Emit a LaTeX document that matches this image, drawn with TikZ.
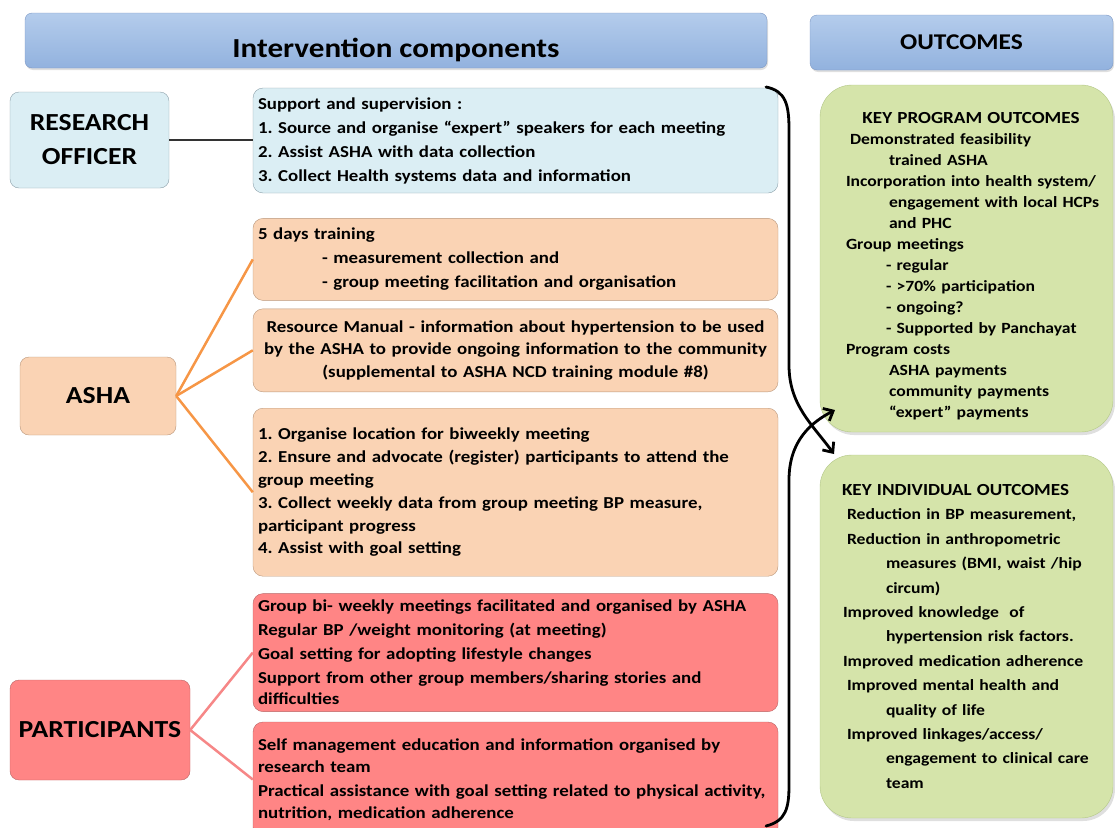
\documentclass[tikz,border=0pt]{standalone}
\usepackage{fontspec}
\setmainfont{Carlito}[FakeStretch=1.13]
\usepackage{xcolor}
\usepackage{tikz}
\usetikzlibrary{shapes,arrows,arrows.meta,positioning,shadows}

\definecolor{hdrtop}{RGB}{180,204,236}
\definecolor{hdrbot}{RGB}{146,178,222}
\definecolor{hdrline}{RGB}{125,152,196}
\definecolor{roblue}{RGB}{219,238,244}
\definecolor{roline}{RGB}{140,160,170}
\definecolor{ashafill}{RGB}{250,211,180}
\definecolor{ashaline}{RGB}{185,150,122}
\definecolor{ashalink}{RGB}{246,150,70}
\definecolor{partfill}{RGB}{255,133,133}
\definecolor{partline}{RGB}{185,100,100}
\definecolor{partlink}{RGB}{246,135,135}
\definecolor{outfill}{RGB}{213,228,170}
\definecolor{grline}{RGB}{178,198,135}

\newcommand{\hdrfont}{\fontsize{27.5}{33}\selectfont\bfseries}
\newcommand{\hdrsmall}{\fontsize{22.5}{27}\selectfont\bfseries}
\newcommand{\rolefont}{\fontsize{24.5}{34}\selectfont\bfseries}
\newcommand{\bodyfont}{\fontsize{16.7}{24}\selectfont\bfseries}
\newcommand{\outfont}{\fontsize{15.6}{21}\selectfont\bfseries}
\newcommand{\indfont}{\fontsize{15.6}{24.4}\selectfont\bfseries}
\newcommand{\keyfont}{\fontsize{16.9}{21}\selectfont}

\frenchspacing
\hyphenpenalty=10000

\begin{document}
\begin{tikzpicture}[
    x=1pt, y=-1pt,
    header/.style={rectangle, draw=hdrline, top color=hdrtop, bottom color=hdrbot, rounded corners=7pt, minimum height=55pt, drop shadow={opacity=0.25, shadow xshift=1pt, shadow yshift=-2pt}},
    role/.style={rectangle, draw, rounded corners=9pt, align=center, font=\rolefont},
    task/.style={rectangle, draw, rounded corners=10pt, minimum width=525pt, text width=515pt, align=left, inner xsep=5pt, inner ysep=2pt, font=\bodyfont},
    outcome/.style={rectangle, draw=grline, fill=outfill, rounded corners=32pt, minimum width=293pt, text width=275pt, align=left, inner xsep=5pt, drop shadow={opacity=0.25, shadow xshift=2pt, shadow yshift=-3pt}},
    link/.style={line width=2.5pt},
    arrow/.style={-{Straight Barb[length=8pt,width=14pt]}, line width=2.8pt, line cap=round}
]
\useasboundingbox (0,0) rectangle (1115,827);

% Header bars
\node[header, minimum width=742pt, font=\hdrfont, text height=38pt, text depth=5pt] (hint) at (396,40.5) {Intervention components};
\node[header, minimum width=303pt, font=\hdrsmall] (hout) at (961.5,42.5) {OUTCOMES};

% Who does it
\node[role, fill=roblue, draw=roline, minimum width=159pt, minimum height=96pt] (ro) at (89.5,140) {RESEARCH\\OFFICER};
\node[role, fill=ashafill, draw=ashaline, minimum width=156pt, minimum height=78pt] (asha) at (98,396) {ASHA};
\node[role, fill=partfill, draw=partline, minimum width=180pt, minimum height=100pt] (part) at (100,730) {PARTICIPANTS};

% Component boxes
\node[task, fill=roblue, draw=roline, minimum height=105pt] (sup) at (515.5,140.5) {
    Support and supervision :\\
    1. Source and organise “expert” speakers for each meeting\\
    2. Assist ASHA with data collection\\
    3. Collect Health systems data and information
};

\node[task, fill=ashafill, draw=ashaline, minimum height=82pt, below=25pt of sup] (a1) {
    5 days training\\
    \hspace*{64pt}- measurement collection and\\
    \hspace*{64pt}- group meeting facilitation and organisation
};

\node[task, fill=ashafill, draw=ashaline, minimum height=83pt, align=center, below=8pt of a1] (a2) {
    Resource Manual - information about hypertension to be used\\[-1.5pt]
    by the ASHA to provide ongoing information to the community\\[-1.5pt]
    (supplemental to ASHA NCD training module \#8)
};

\node[task, fill=ashafill, draw=ashaline, minimum height=168pt, below=16pt of a2] (a3) {
    1. Organise location for biweekly meeting\\[-1pt]
    2. Ensure and advocate (register) participants to attend the\\[-1pt]
    group meeting\\[-1pt]
    3. Collect weekly data from group meeting BP measure,\\[-1pt]
    participant progress\\[-2pt]
    4. Assist with goal setting
};

\node[task, fill=partfill, draw=partline, minimum height=118pt, below=17pt of a3] (p1) {
    Group bi- weekly meetings facilitated and organised by ASHA\\
    Regular BP /weight monitoring (at meeting)\\
    Goal setting for adopting lifestyle changes\\
    Support from other group members/sharing stories and\\[-3pt]
    difficulties
};

\node[task, fill=partfill, draw=partline, minimum height=115pt, below=10pt of p1] (p2) {
    Self management education and information organised by\\[-2pt]
    research team\\
    Practical assistance with goal setting related to physical activity,\\[-2pt]
    nutrition, medication adherence
};

% Outcome boxes
\node[outcome, font=\outfont, minimum height=347pt] (g1) at (966.5,258.5) {
    \rule{0pt}{26pt}\makebox[\linewidth]{\keyfont\hspace*{9pt}KEY PROGRAM OUTCOMES}\\
    \hspace*{21pt}Demonstrated feasibility\\
    \hspace*{60pt}trained ASHA\\
    \hspace*{17pt}Incorporation into health system/\\
    \hspace*{60pt}engagement with local HCPs\\
    \hspace*{60pt}and PHC\\
    \hspace*{17pt}Group meetings\\
    \hspace*{57pt}- regular\\
    \hspace*{57pt}- >70\% participation\\
    \hspace*{57pt}- ongoing?\\
    \hspace*{57pt}- Supported by Panchayat\\
    \hspace*{17pt}Program costs\\
    \hspace*{60pt}ASHA payments\\
    \hspace*{60pt}community payments\\
    \hspace*{60pt}“expert” payments
};

\node[outcome, font=\indfont, minimum height=363pt] (g2) at (966.5,636.5) {
    \hspace*{13pt}{\keyfont KEY INDIVIDUAL OUTCOMES}\\
    \hspace*{18pt}Reduction in BP measurement,\\
    \hspace*{18pt}Reduction in anthropometric\\
    \hspace*{57pt}measures (BMI, waist /hip\\
    \hspace*{57pt}circum)\\
    \hspace*{14pt}Improved knowledge\ \ of\\
    \hspace*{57pt}hypertension risk factors.\\
    \hspace*{14pt}Improved medication adherence\\
    \hspace*{18pt}Improved mental health and\\
    \hspace*{57pt}quality of life\\
    \hspace*{18pt}Improved linkages/access/\\
    \hspace*{57pt}engagement to clinical care\\
    \hspace*{57pt}team
};

% Links
\draw[black!80, line width=1.3pt] (ro.east) -- (sup.west |- ro.east);
\draw[link, ashalink] (asha.east) -- (a1.west);
\draw[link, ashalink] (asha.east) -- (a2.west);
\draw[link, ashalink] (asha.east) -- (a3.west);
\draw[link, partlink] (part.east) -- (p1.west);
\draw[link, partlink] (part.east) -- (p2.west);

% Brackets into outcomes
\coordinate (btop) at (766,87);
\coordinate (bbot) at (766,826);
\coordinate (itip) at (834,454);
\coordinate (ptip) at (835,410);
\draw[arrow] (btop) .. controls (786,91) and (789,105) .. (789,130) -- (789,365) .. controls (789,405) and (812,424) .. (itip);
\draw[arrow] (bbot) .. controls (786,821) and (789,808) .. (789,785) -- (789,480) .. controls (789,440) and (812,422) .. (ptip);

\end{tikzpicture}
\end{document}
